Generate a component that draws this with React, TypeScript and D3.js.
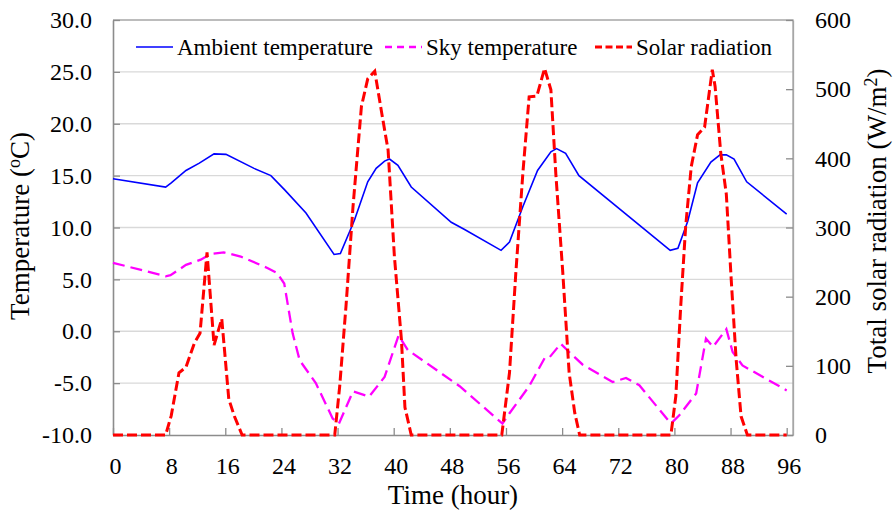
import React, { useEffect, useRef } from "react";
import * as d3 from "d3";

// values (hour, value)
const ambientHours = [0, 7.5, 8.3, 10.4, 12.3, 14.4, 16.1, 20.1, 22.5, 24.5, 27.5, 31.5, 32.4, 34.4, 36.3, 37.5, 38.7, 39.4, 40.6, 42.5, 48.2, 50.1, 55.3, 56.5, 58.4, 60.5, 62.4, 63.2, 64.5, 66.4, 79.4, 80.5, 81.9, 83.3, 85.2, 86.5, 87.4, 88.5, 90.3, 96];
const ambientTemp = [14.7, 13.9, 14.3, 15.5, 16.2, 17.1, 17.05, 15.7, 15.0, 13.6, 11.4, 7.4, 7.5, 10.7, 14.4, 15.7, 16.4, 16.6, 16.0, 13.9, 10.5, 9.8, 7.8, 8.6, 12.0, 15.5, 17.3, 17.6, 17.15, 15.0, 7.8, 8.0, 10.6, 14.3, 16.3, 17.0, 17.0, 16.6, 14.4, 11.3];

const skyHours = [0, 7.5, 8.2, 10.4, 12.5, 13.9, 15.8, 18.2, 22, 23.4, 24.4, 25.6, 26.6, 28.9, 31.3, 32.2, 34.2, 36.5, 38.7, 40.7, 42, 49.4, 55.5, 56.5, 59.3, 61.5, 62.1, 63.8, 65, 66.9, 71.2, 73.1, 75, 79.5, 80.7, 83.1, 84.5, 85.5, 87.4, 88.3, 89.7, 96];
const skyTemp = [6.6, 5.3, 5.4, 6.4, 6.9, 7.45, 7.6, 7.2, 6.1, 5.6, 4.6, -0.2, -2.8, -5.0, -8.4, -8.9, -5.8, -6.3, -4.4, -0.4, -1.8, -5.3, -8.9, -7.9, -5.3, -2.6, -2.6, -1.2, -2.0, -3.2, -4.9, -4.5, -5.2, -8.9, -8.1, -6.0, -0.7, -1.5, 0.2, -2.0, -3.3, -5.7];

const solarHours = [0, 7.5, 8.3, 9.4, 10.4, 11.6, 12.4, 13.4, 14.4, 15.5, 16.5, 17.3, 18.4, 31.6, 32.3, 33.2, 34.2, 35.4, 36.3, 37.3, 38.3, 39.2, 40.1, 41.1, 41.6, 42.5, 55.4, 56.5, 57.4, 58.4, 59.3, 60.4, 61.5, 62.4, 63.1, 64.1, 65.0, 65.8, 66.5, 79.5, 80.2, 80.9, 81.6, 82.4, 83.3, 84.3, 85.4, 85.8, 86.6, 87.4, 88.1, 88.8, 89.5, 90.4, 96];
const solarRad = [0, 0, 28, 90, 98, 133, 147, 264, 130, 168, 52, 27, 0, 0, 70, 186, 330, 475, 515, 526, 465, 412, 258, 138, 40, 0, 0, 90, 234, 378, 489, 490, 530, 499, 378, 234, 90, 32, 0, 0, 56, 186, 301, 388, 434, 445, 528, 504, 408, 348, 224, 109, 27, 0, 0];

const hourTicks = [0, 8, 16, 24, 32, 40, 48, 56, 64, 72, 80, 88, 96];
const tempTicks = [-10, -5, 0, 5, 10, 15, 20, 25, 30];
const solarTicks = [0, 100, 200, 300, 400, 500, 600];

export default function App() {
  const svgRef = useRef<SVGSVGElement>(null);

  useEffect(() => {
    const width = 896;
    const height = 518;
    const left = 113, right = 793, top = 20, bottom = 435;
    const font = "'Liberation Serif', 'Times New Roman', serif";

    const svg = d3.select(svgRef.current).attr("width", width).attr("height", height);
    svg.selectAll("*").remove();

    const x = d3.scaleLinear().domain([0, 96.9]).range([left, right]);
    const yT = d3.scaleLinear().domain([-10, 30]).range([bottom, top]);
    const yS = d3.scaleLinear().domain([0, 600]).range([bottom, top]);

    // horizontal gridlines
    svg.append("g")
      .selectAll("line")
      .data(tempTicks.filter((t) => t > -10 && t < 30))
      .join("line")
      .attr("x1", left)
      .attr("x2", right)
      .attr("y1", (d) => yT(d))
      .attr("y2", (d) => yT(d))
      .attr("stroke", "#d9d9d9")
      .attr("stroke-width", 1.3);

    // top + right frame
    svg.append("path")
      .attr("d", `M${left},${top}H${right}V${bottom}`)
      .attr("fill", "none")
      .attr("stroke", "#a6a6a6")
      .attr("stroke-width", 1.3);

    const styleAxis = (g, size) => {
      g.selectAll("path").attr("stroke", "#8c8c8c").attr("stroke-width", 1.6);
      g.selectAll("line").attr("stroke", "#8c8c8c").attr("stroke-width", 1.3);
      g.selectAll("text")
        .attr("fill", "#000")
        .style("font-family", font)
        .style("font-size", size + "px");
    };

    svg.append("g")
      .attr("transform", `translate(${left},0)`)
      .call(d3.axisLeft(yT).tickValues(tempTicks).tickSizeInner(-7).tickSizeOuter(0).tickPadding(21)
        .tickFormat((d) => (+d).toFixed(1)))
      .call((g) => styleAxis(g, 24));

    svg.append("g")
      .attr("transform", `translate(${right},0)`)
      .call(d3.axisRight(yS).tickValues(solarTicks).tickSizeInner(-7).tickSizeOuter(0).tickPadding(22)
        .tickFormat((d) => String(d)))
      .call((g) => styleAxis(g, 24))
      .call((g) => g.select(".domain").attr("stroke", "#a6a6a6").attr("stroke-width", 1.3));

    svg.append("g")
      .attr("transform", `translate(0,${bottom})`)
      .call(d3.axisBottom(x).tickValues(hourTicks).tickSizeInner(-7).tickSizeOuter(0).tickPadding(22)
        .tickFormat((d) => String(d)))
      .call((g) => styleAxis(g, 24))
      .call((g) => g.selectAll("text").attr("dx", 2));

    // series
    const lineT = d3.line<[number, number]>().x((d) => x(d[0])).y((d) => yT(d[1]));
    const lineS = d3.line<[number, number]>().x((d) => x(d[0])).y((d) => yS(d[1]));

    svg.append("path")
      .datum(ambientHours.map((h, i) => [h, ambientTemp[i]] as [number, number]))
      .attr("d", lineT)
      .attr("fill", "none")
      .attr("stroke", "#0000ff")
      .attr("stroke-width", 1.6);

    svg.append("path")
      .datum(skyHours.map((h, i) => [h, skyTemp[i]] as [number, number]))
      .attr("d", lineT)
      .attr("fill", "none")
      .attr("stroke", "#ff00ff")
      .attr("stroke-width", 2.3)
      .attr("stroke-dasharray", "12,6");

    svg.append("path")
      .datum(solarHours.map((h, i) => [h, solarRad[i]] as [number, number]))
      .attr("d", lineS)
      .attr("fill", "none")
      .attr("stroke", "#ff0000")
      .attr("stroke-width", 3)
      .attr("stroke-dasharray", "10,4");

    // legend
    const legendItems = [
      { label: "Ambient temperature", color: "#0000ff", x: 136, dash: null, w: 1.6 },
      { label: "Sky temperature", color: "#ff00ff", x: 385, dash: "7,5", w: 2.3 },
      { label: "Solar radiation", color: "#ff0000", x: 595, dash: "7,3.5", w: 3 },
    ];
    const legend = svg.append("g");
    legendItems.forEach((it) => {
      legend.append("line")
        .attr("x1", it.x)
        .attr("x2", it.x + 37)
        .attr("y1", 47)
        .attr("y2", 47)
        .attr("stroke", it.color)
        .attr("stroke-width", it.w)
        .attr("stroke-dasharray", it.dash);
      legend.append("text")
        .attr("x", it.x + 41)
        .attr("y", 55)
        .style("font-family", font)
        .style("font-size", "23px")
        .text(it.label);
    });

    // axis titles
    const leftTitle = svg.append("text")
      .attr("transform", "translate(29,226) rotate(-90)")
      .attr("text-anchor", "middle")
      .style("font-family", font)
      .style("font-size", "27px");
    leftTitle.append("tspan").text("Temperature (");
    leftTitle.append("tspan").attr("dy", -9).style("font-size", "18px").text("o");
    leftTitle.append("tspan").attr("dy", 9).text("C)");

    const rightTitle = svg.append("text")
      .attr("transform", "translate(886,221) rotate(-90)")
      .attr("text-anchor", "middle")
      .style("font-family", font)
      .style("font-size", "27px");
    rightTitle.append("tspan").text("Total solar radiation (W/m");
    rightTitle.append("tspan").attr("dy", -9).style("font-size", "18px").text("2");
    rightTitle.append("tspan").attr("dy", 9).text(")");

    svg.append("text")
      .attr("x", 453)
      .attr("y", 504)
      .attr("text-anchor", "middle")
      .style("font-family", font)
      .style("font-size", "27px")
      .text("Time (hour)");
  }, []);

  return (
    <div style={{ position: "absolute", left: 0, top: 0, background: "#fff" }}>
      <svg ref={svgRef}></svg>
    </div>
  );
}
